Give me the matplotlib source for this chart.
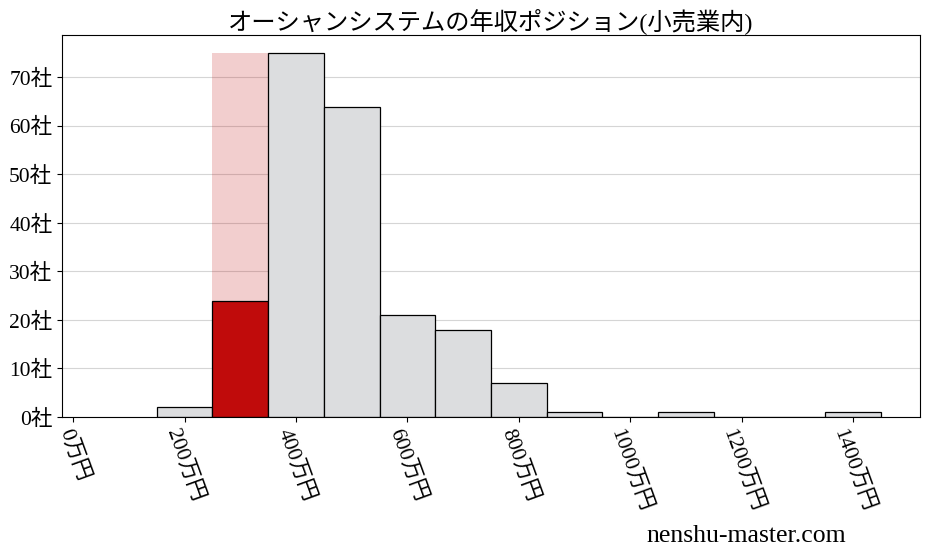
import numpy as np
import matplotlib.pyplot as plt

plt.rcParams['font.family'] = ['Liberation Serif', 'Noto Sans CJK JP']

title = "オーシャンシステムの年収ポジション(小売業内)"
bin_left = [150, 250, 350, 450, 550, 650, 750, 850, 950, 1050, 1150, 1250, 1350]
counts = [2, 24, 75, 64, 21, 18, 7, 1, 0, 1, 0, 0, 1]
highlight = 250  # bin of this company
xticks = [0, 200, 400, 600, 800, 1000, 1200, 1400]
yticks = [0, 10, 20, 30, 40, 50, 60, 70]

fig = plt.figure(figsize=(9.27, 5.57), dpi=100)
ax = fig.add_axes([62 / 927, 1 - 417 / 557, (920 - 62) / 927, (417 - 35) / 557])

ymax = max(counts)
# light band over the company's bin
ax.bar([highlight], [ymax], width=100, align='edge', color='#c00b0b', alpha=0.2, zorder=1)

colors = ['#c00b0b' if b == highlight else '#dcdddf' for b in bin_left]
ax.bar(bin_left, counts, width=100, align='edge', color=colors,
       edgecolor='black', linewidth=0.9, zorder=2)

ax.set_xlim(-20, 1520)
ax.set_ylim(0, ymax * 1.05)
ax.set_xticks(xticks)
ax.set_xticklabels([f"{x}万円" for x in xticks], rotation=-70, fontsize=15.5)
ax.set_yticks(yticks)
ax.set_yticklabels([f"{y}社" for y in yticks], fontsize=15.5)
ax.yaxis.grid(True, color='#d5d5d5', linewidth=0.8, zorder=0)
ax.set_axisbelow(True)

ax.set_title(title, fontsize=17.5, pad=4)
fig.text(0.805, 0.037, "nenshu-master.com", fontsize=18.5, ha='center', va='center')

fig.savefig("out.png", dpi=100)
